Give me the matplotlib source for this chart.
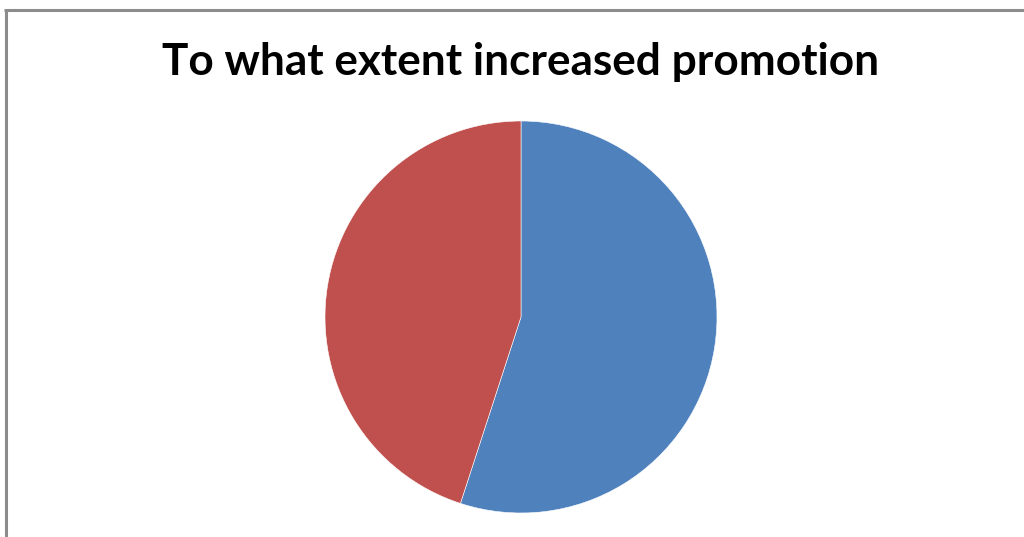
import matplotlib.pyplot as plt
from matplotlib.lines import Line2D

# Pie data
labels = ["Yes", "No"]
shares = [55, 45]
colors = ["#4F81BD", "#C0504D"]

W, H = 1024, 537
fig = plt.figure(figsize=(W / 100, H / 100), dpi=100)
fig.patch.set_facecolor("white")

# pie axes: centre (521, 317) px, radius 196 px
cx, cy, r = 521, 317, 196
ax = fig.add_axes([(cx - r) / W, (H - cy - r) / H, 2 * r / W, 2 * r / H])
ax.pie(shares, colors=colors, startangle=90, counterclock=False,
       radius=1, wedgeprops=dict(edgecolor="white", linewidth=0.4))
ax.set_xlim(-1, 1)
ax.set_ylim(-1, 1)
ax.set_aspect("equal")
ax.axis("off")

fig.text(521 / W, 1 - 62 / H, "To what extent increased promotion",
         ha="center", va="center", fontsize=31.8, fontweight="bold",
         family="Lato")

# chart frame (left and top edges only)
fx, fy = 5.5 / W, 1 - 9.5 / H
fig.add_artist(Line2D([fx, fx], [0, fy], transform=fig.transFigure,
                      color="#8c8c8c", linewidth=2.2, solid_capstyle="butt"))
fig.add_artist(Line2D([fx - 1.1 / W, 1], [fy, fy], transform=fig.transFigure,
                      color="#8c8c8c", linewidth=2.2, solid_capstyle="butt"))

fig.savefig("out.png", dpi=100)
